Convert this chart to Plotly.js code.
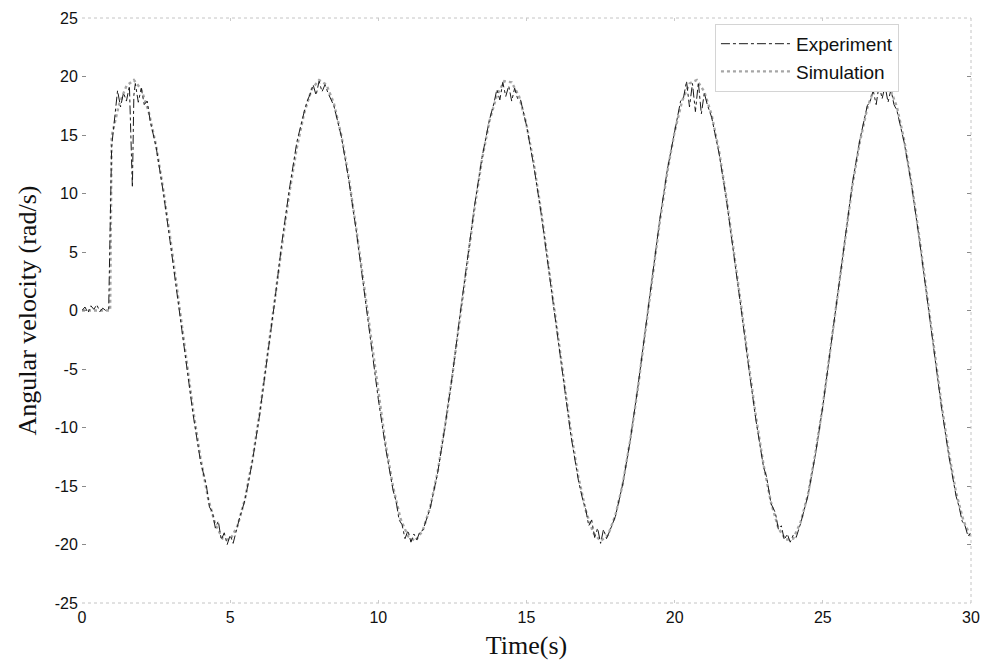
<!DOCTYPE html>
<html>
<head>
<meta charset="utf-8">
<script src="https://cdn.plot.ly/plotly-3.0.1.min.js"></script>
<style>html,body{margin:0;padding:0;background:#fff;}#chart{width:990px;height:664px;}</style>
</head>
<body>
<div id="chart"></div>
<script>
// ---- Data ----
const simTime = [0,0.25,0.5,0.75,0.95,1.0,1.25,1.5,1.75,2.0,2.25,2.5,2.75,3.0,3.25,3.5,3.75,4.0,4.25,4.5,4.75,5.0,5.25,5.5,5.75,6.0,6.25,6.5,6.75,7.0,7.25,7.5,7.75,8.0,8.25,8.5,8.75,9.0,9.25,9.5,9.75,10.0,10.25,10.5,10.75,11.0,11.25,11.5,11.75,12.0,12.25,12.5,12.75,13.0,13.25,13.5,13.75,14.0,14.25,14.5,14.75,15.0,15.25,15.5,15.75,16.0,16.25,16.5,16.75,17.0,17.25,17.5,17.75,18.0,18.25,18.5,18.75,19.0,19.25,19.5,19.75,20.0,20.25,20.5,20.75,21.0,21.25,21.5,21.75,22.0,22.25,22.5,22.75,23.0,23.25,23.5,23.75,24.0,24.25,24.5,24.75,25.0,25.25,25.5,25.75,26.0,26.25,26.5,26.75,27.0,27.25,27.5,27.75,28.0,28.25,28.5,28.75,29.0,29.25,29.5,29.75,30.0];
const simValues = [0,0,0,0,0,14.9,17.6,19.2,19.7,18.9,17.0,14.1,10.2,5.8,1.0,-3.9,-8.5,-12.6,-16.0,-18.3,-19.5,-19.6,-18.4,-16.1,-12.8,-8.7,-4.1,0.8,5.6,10.1,13.9,16.9,18.9,19.7,19.3,17.7,15.0,11.4,7.1,2.4,-2.5,-7.2,-11.5,-15.1,-17.8,-19.3,-19.7,-18.8,-16.8,-13.8,-9.9,-5.5,-0.6,4.2,8.8,12.9,16.2,18.4,19.6,19.5,18.3,15.9,12.5,8.4,3.7,-1.1,-5.9,-10.4,-14.2,-17.1,-19.0,-19.7,-19.2,-17.5,-14.8,-11.1,-6.8,-2.0,2.9,7.6,11.8,15.3,17.9,19.4,19.7,18.7,16.7,13.6,9.6,5.1,0.3,-4.6,-9.2,-13.2,-16.4,-18.6,-19.6,-19.5,-18.1,-15.7,-12.2,-8.1,-3.4,1.5,6.3,10.7,14.4,17.3,19.1,19.7,19.1,17.4,14.5,10.8,6.4,1.7,-3.2,-7.9,-12.1,-15.6,-18.0,-19.4];

const expTime = [0,0.1,0.2,0.3,0.4,0.5,0.6,0.7,0.8,0.9,1.0,1.1,1.2,1.3,1.4,1.5,1.6,1.7,1.75,1.8,1.9,2.0,2.1,2.2,2.3,2.5,2.75,3.0,3.25,3.5,3.75,4.0,4.2,4.3,4.4,4.5,4.6,4.7,4.8,4.9,5.0,5.1,5.2,5.3,5.5,5.75,6.0,6.25,6.5,6.75,7.0,7.25,7.4,7.5,7.6,7.7,7.8,7.9,8.0,8.1,8.2,8.3,8.5,8.75,9.0,9.25,9.5,9.75,10.0,10.25,10.5,10.6,10.7,10.8,10.9,11.0,11.1,11.2,11.3,11.4,11.5,11.75,12.0,12.25,12.5,12.75,13.0,13.25,13.5,13.75,13.9,14.0,14.1,14.2,14.3,14.4,14.5,14.6,14.7,14.8,15.0,15.25,15.5,15.75,16.0,16.25,16.5,16.75,16.9,17.0,17.1,17.2,17.3,17.4,17.5,17.6,17.7,17.8,18.0,18.25,18.5,18.75,19.0,19.25,19.5,19.75,20.0,20.1,20.2,20.3,20.4,20.5,20.6,20.7,20.8,20.9,21.0,21.1,21.25,21.5,21.75,22.0,22.25,22.5,22.75,23.0,23.1,23.25,23.4,23.5,23.6,23.7,23.8,23.9,24.0,24.1,24.25,24.5,24.75,25.0,25.25,25.5,25.75,26.0,26.25,26.5,26.6,26.7,26.8,26.9,27.0,27.1,27.2,27.3,27.4,27.5,27.75,28.0,28.25,28.5,28.75,29.0,29.25,29.5,29.6,29.7,29.8,29.9,30.0];
const expValues = [0,0.3,-0.2,0.4,0.1,0.5,-0.1,0.2,0,0.1,14.0,16.5,18.8,17.4,18.6,17.9,19.2,10.5,18.4,19.4,17.8,19.0,17.6,17.9,16.2,14.0,10.0,5.4,0.6,-4.3,-8.9,-12.9,-15.0,-16.8,-17.2,-18.6,-18.0,-19.6,-19.0,-20.0,-19.2,-19.9,-18.9,-17.9,-16.2,-12.9,-8.8,-4.2,0.7,5.9,10.4,14.4,16.1,17.0,17.9,18.5,19.3,18.4,19.6,18.7,19.3,18.6,17.5,14.9,11.2,6.9,2.1,-2.9,-7.6,-11.8,-15.4,-16.3,-17.9,-18.3,-19.5,-18.8,-19.8,-19.1,-19.6,-18.9,-18.8,-16.9,-13.9,-9.9,-5.5,-0.5,4.4,9.0,13.1,16.3,17.7,18.9,18.0,19.5,18.3,19.2,17.9,19.0,18.1,18.0,15.8,12.3,8.2,3.4,-1.4,-6.2,-10.7,-14.5,-16.2,-17.0,-18.4,-17.9,-19.4,-18.6,-19.9,-18.7,-19.5,-18.9,-17.6,-14.8,-11.1,-6.7,-1.9,3.0,7.8,12.0,15.5,16.6,17.9,18.2,19.6,17.4,19.4,17.0,19.5,16.8,18.6,17.6,16.5,13.4,9.4,4.9,0.0,-4.9,-9.5,-13.4,-14.2,-16.5,-17.3,-18.7,-18.4,-19.6,-19.1,-19.8,-19.2,-19.4,-18.2,-15.8,-12.3,-8.2,-3.4,1.6,6.5,10.9,14.6,17.5,17.9,18.8,17.6,19.3,18.1,19.2,17.8,18.9,17.6,17.1,14.3,10.6,6.2,1.4,-3.5,-8.2,-12.4,-15.9,-16.8,-18.0,-18.4,-19.3,-19.0];

const seriesNames = ["Experiment", "Simulation"];
const xTickVals = [0,5,10,15,20,25,30];
const yTickVals = [-25,-20,-15,-10,-5,0,5,10,15,20,25];
const xTitle = "Time(s)";
const yTitle = "Angular velocity (rad/s)";

const traces = [
  {
    x: simTime, y: simValues, name: seriesNames[1], type: "scatter", mode: "lines",
    line: {color: "#a6a6a6", width: 2.4, dash: "dot"}
  },
  {
    x: expTime, y: expValues, name: seriesNames[0], type: "scatter", mode: "lines",
    line: {color: "#1a1a1a", width: 1, dash: "dashdot"}
  }
];

const frameLine = {color: "#c4c4c4", width: 1, dash: "dot"};
const layout = {
  width: 990, height: 664,
  margin: {l: 82, r: 19, t: 18, b: 61},
  paper_bgcolor: "#ffffff", plot_bgcolor: "#ffffff",
  showlegend: true,
  legend: {
    x: 0.712, y: 0.99, xanchor: "left", yanchor: "top",
    bgcolor: "#ffffff", bordercolor: "#d4d4d4", borderwidth: 1,
    font: {family: "Arial, Liberation Sans, sans-serif", size: 19, color: "#111"},
    itemwidth: 70, tracegroupgap: 0, traceorder: "reversed"
  },
  xaxis: {
    range: [0, 30], tickvals: xTickVals, ticktext: xTickVals.map(String),
    showgrid: false, zeroline: false,
    showline: true, linecolor: "rgba(0,0,0,0)", mirror: "ticks",
    ticks: "inside", ticklen: 3, tickcolor: "#cccccc",
    tickfont: {family: "Arial, Liberation Sans, sans-serif", size: 16, color: "#111"},
    title: {text: xTitle, standoff: 10, font: {family: "Liberation Serif, Times New Roman, serif", size: 26, color: "#111"}}
  },
  yaxis: {
    range: [-25, 25], tickvals: yTickVals, ticktext: yTickVals.map(String),
    showgrid: false, zeroline: false,
    showline: true, linecolor: "rgba(0,0,0,0)", mirror: "ticks",
    ticks: "inside", ticklen: 4, tickcolor: "#8a8a8a",
    tickfont: {family: "Arial, Liberation Sans, sans-serif", size: 16, color: "#111"},
    title: {text: yTitle, standoff: 10, font: {family: "Liberation Serif, Times New Roman, serif", size: 26, color: "#111"}}
  },
  shapes: [
    {type: "line", xref: "paper", yref: "paper", x0: 0, x1: 1, y0: 1, y1: 1, line: frameLine},
    {type: "line", xref: "paper", yref: "paper", x0: 0, x1: 1, y0: 0, y1: 0, line: frameLine},
    {type: "line", xref: "paper", yref: "paper", x0: 1, x1: 1, y0: 0, y1: 1, line: frameLine}
  ]
};

Plotly.newPlot("chart", traces, layout, {displayModeBar: false, staticPlot: true});
</script>
</body>
</html>
